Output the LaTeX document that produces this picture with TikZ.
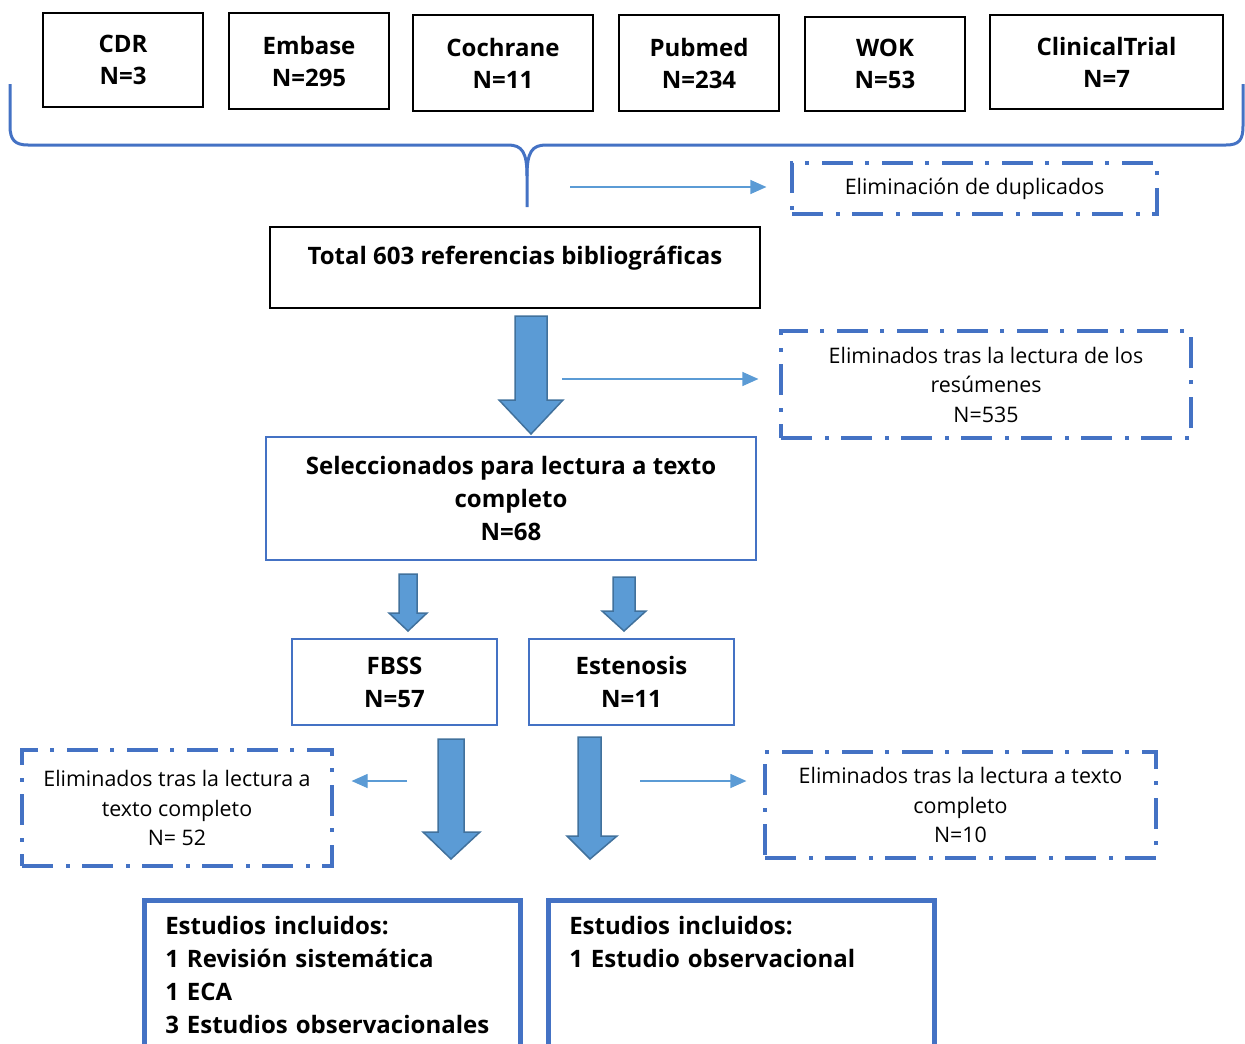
\documentclass[tikz,border=0pt]{standalone}
\usepackage{fontspec}
\setmainfont{Open Sans}
\usepackage{tikz}
\usetikzlibrary{arrows.meta,positioning}

\begin{document}
\begin{tikzpicture}[x=1pt,y=-1pt,
    srcbox/.style={draw=black, line width=2pt, inner sep=0pt, align=center,
        font=\fontsize{24}{32}\selectfont\bfseries},
    stepbox/.style={draw=boxblue, line width=2.2pt, inner sep=0pt, align=center,
        font=\fontsize{24}{33}\selectfont\bfseries},
    outbox/.style={draw=boxblue, line width=3.2pt, inner sep=0pt, align=center,
        dash pattern=on 31pt off 13pt on 4pt off 12pt,
        font=\fontsize{21.4}{29.5}\selectfont},
    inclbox/.style={draw=boxblue, line width=4.5pt, inner xsep=21pt, inner ysep=16pt,
        align=left, anchor=north west, font=\fontsize{24}{33}\selectfont\bfseries},
    thinarrow/.style={draw=arrowblue, line width=1.2pt,
        -{Triangle[length=16pt,width=14pt]}},
    blockarrow/.style={fill=arrowblue, draw=arrowedge, line width=1.5pt}]
    \definecolor{boxblue}{HTML}{4472C4}
    \definecolor{arrowblue}{HTML}{5B9BD5}
    \definecolor{arrowedge}{HTML}{41719C}

    \useasboundingbox (0,0) rectangle (1245,1044);

    % Databases
    \node[srcbox, minimum width=160pt, minimum height=94pt] (cdr) at (123,60) {CDR\\N=3};
    \node[srcbox, minimum width=160pt, minimum height=96pt] (embase) at (309,61) {Embase\\N=295};
    \node[srcbox, minimum width=180pt, minimum height=96pt] (cochrane) at (503,63) {Cochrane\\N=11};
    \node[srcbox, minimum width=160pt, minimum height=96pt] (pubmed) at (699,63) {Pubmed\\N=234};
    \node[srcbox, minimum width=160pt, minimum height=94pt] (wok) at (885,64) {WOK\\N=53};
    \node[srcbox, minimum width=233pt, minimum height=94pt] (trial) at (1106.5,62) {ClinicalTrial\\N=7};

    % brace joining all sources
    \coordinate (tip) at (527,207);
    \draw[boxblue, line width=3pt]
        (10,84) -- (10,126) ..
        controls (10,140) and (15,145) ..
        (28,145) -- (508,145) ..
        controls (522,145) and (527,152) ..
        (527,176) -- (tip);
    \draw[boxblue, line width=3pt]
        (527,176) ..
        controls (527,152) and (532,145) ..
        (546,145) -- (1226,145) ..
        controls (1239,145) and (1243,140) ..
        (1243,126) -- (1243,84);

    \node[outbox, minimum width=365pt, minimum height=51pt] (dup) at (974.5,188.5)
        {Eliminación de duplicados};
    \coordinate (d1) at (570,187);
    \draw[thinarrow, shorten >=24pt] (d1) -- (d1 -| dup.west);

    \node[srcbox, minimum width=490pt, minimum height=81pt] (total) at (515,267.5)
        {Total 603 referencias bibliográficas\\[-8pt] \mbox{}};

    % screening of abstracts
    \draw[blockarrow] (515,316) -- (547,316) -- (547,400) -- (563,400) -- (531,434)
        -- (499,400) -- (515,400) -- cycle;
    \node[outbox, minimum width=410pt, minimum height=107pt] (abst) at (986,384.5)
        {Eliminados tras la lectura de los\\resúmenes\\N=535};
    \coordinate (d2) at (562,379);
    \draw[thinarrow, shorten >=21pt] (d2) -- (d2 -| abst.west);

    \node[stepbox, minimum width=490pt, minimum height=123pt] (sel) at (511,498.5)
        {Seleccionados para lectura a texto\\completo\\N=68};

    \draw[blockarrow] (399,574) -- (417,574) -- (417,613) -- (427,613) -- (408,631)
        -- (389,613) -- (399,613) -- cycle;
    \draw[blockarrow] (613,577) -- (635,577) -- (635,611) -- (646,611) -- (624,631)
        -- (602,611) -- (613,611) -- cycle;

    \node[stepbox, minimum width=205pt, minimum height=86pt] (fbss) at (394.5,682) {FBSS\\N=57};
    \node[stepbox, minimum width=205pt, minimum height=86pt] (esten) at (631.5,682) {Estenosis\\N=11};

    % full text reading
    \draw[blockarrow] (438,739) -- (464,739) -- (464,832) -- (480,832) -- (451,859)
        -- (423,832) -- (438,832) -- cycle;
    \draw[blockarrow] (578,737) -- (601,737) -- (601,836) -- (617,836) -- (590,859)
        -- (567,836) -- (578,836) -- cycle;

    \node[outbox, minimum width=310pt, minimum height=116pt] (elimL) at (177,808)
        {Eliminados tras la lectura a\\texto completo\\N= 52};
    \node[outbox, minimum width=391pt, minimum height=106pt] (elimR) at (960.5,805)
        {Eliminados tras la lectura a texto\\completo\\N=10};
    \coordinate (d3) at (407,781);
    \draw[thinarrow, shorten >=18pt] (d3) -- (d3 -| elimL.east);
    \coordinate (d4) at (640,781);
    \draw[thinarrow, shorten >=17pt] (d4) -- (d4 -| elimR.west);

    % included studies
    \node[inclbox, text width=334pt] (incl1) at (142,898)
        {Estudios incluidos:\\1 Revisión sistemática\\1 ECA\\3 Estudios observacionales};
    \node[inclbox, text width=344pt] (incl2) at (546,898)
        {Estudios incluidos:\\1 Estudio observacional\\ \mbox{}\\ \mbox{}};
\end{tikzpicture}
\end{document}
